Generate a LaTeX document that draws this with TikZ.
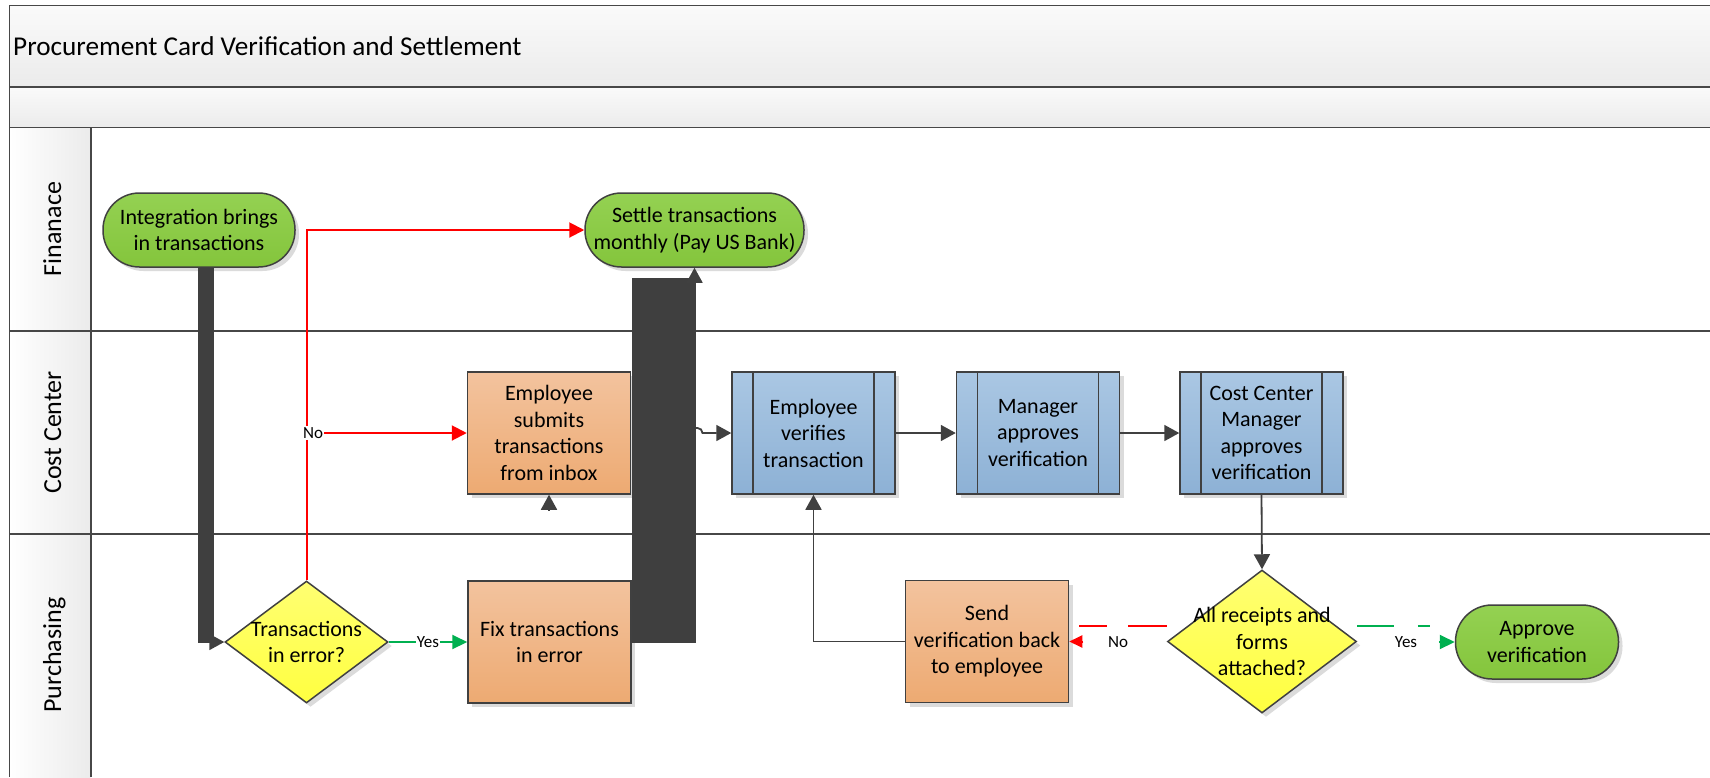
\documentclass[tikz,border=0pt]{standalone}
\usepackage{fontspec}
\setmainfont{Carlito}
\usetikzlibrary{arrows.meta,shapes.geometric,shadows,calc}
\definecolor{frameC}{HTML}{474747}
\definecolor{outC}{HTML}{404040}
\definecolor{connC}{HTML}{404040}
\definecolor{barC}{HTML}{3F3F3F}
\definecolor{greenT}{HTML}{94D152}
\definecolor{greenB}{HTML}{84C53C}
\definecolor{orT}{HTML}{F3C39E}
\definecolor{orB}{HTML}{EDAA72}
\definecolor{blT}{HTML}{AAC7E3}
\definecolor{blB}{HTML}{8DB1D5}
\definecolor{yT}{HTML}{FFFF72}
\definecolor{yB}{HTML}{FFFF40}
\definecolor{redC}{HTML}{FF0000}
\definecolor{grnC}{HTML}{00B050}
\definecolor{bandT}{HTML}{FAFAFA}
\definecolor{bandB}{HTML}{EBEBEB}
\newcommand\myNodeFont{\fontsize{22}{26.5}\selectfont}
\newcommand\myLblFont{\fontsize{17}{20}\selectfont}
\newcommand\myLaneFont{\fontsize{26}{31}\selectfont}
\newcommand\myTitleFont{\fontsize{27.2}{32}\selectfont}
\tikzset{
  frame/.style={draw=frameC, line width=1.8pt},
  box/.style={draw=outC, line width=1.5pt, inner sep=2pt, align=center, font=\myNodeFont,
    drop shadow={shadow xshift=4pt, shadow yshift=-4pt, opacity=0.14, fill=black}},
  term/.style={box, rectangle, rounded corners=36.5pt, minimum width=192pt, minimum height=74pt,
    top color=greenT, bottom color=greenB},
  task/.style={box, rectangle, minimum width=163pt, minimum height=122pt,
    top color=orT, bottom color=orB},
  subproc/.style={box, rectangle, minimum width=163pt, minimum height=122pt,
    top color=blT, bottom color=blB,
    path picture={\draw[draw=outC, line width=1.5pt]
      ([xshift=21pt]path picture bounding box.north west) -- ([xshift=21pt]path picture bounding box.south west)
      ([xshift=-21pt]path picture bounding box.north east) -- ([xshift=-21pt]path picture bounding box.south east);}},
  dec/.style={box, diamond, inner sep=0pt, top color=yT, bottom color=yB},
  dectext/.style={align=center, font=\myNodeFont, inner sep=0pt},
  conn/.style={draw=connC, line width=1.8pt, -{Triangle[length=15pt,width=16pt]}},
  redline/.style={draw=redC, line width=2pt, -{Triangle[length=15pt,width=15pt]}},
  grnline/.style={draw=grnC, line width=2pt, -{Triangle[length=15pt,width=14pt]}},
  lbl/.style={fill=white, inner sep=1pt, font=\myLblFont},
  lane/.style={rotate=90, anchor=base, font=\myLaneFont, inner sep=0pt},
}
\begin{document}
\begin{tikzpicture}[x=1pt,y=-1pt]
\useasboundingbox (0,0) rectangle (1710,777);
\fill[white] (0,0) rectangle (1710,777);
% pool frame and bands
\shade[top color=bandT, bottom color=bandB] (9.5,5.5) rectangle (1710,86.7);
\shade[top color=bandT, bottom color=bandB] (9.5,86.7) rectangle (1710,127.5);
\shade[left color=white, right color=bandB] (9.5,127.5) rectangle (90.7,777);
\draw[frame] (1710,5.5) -- (9.5,5.5) -- (9.5,777);
\draw[frame] (9.5,86.7) -- (1710,86.7);
\draw[frame] (9.5,127.5) -- (1710,127.5);
\draw[frame] (90.7,127.5) -- (90.7,777);
\draw[frame] (9.5,331) -- (1710,331);
\draw[frame] (9.5,534) -- (1710,534);
\node[anchor=base west, font=\myTitleFont, inner sep=0pt] (title) at (13,55.5) {Procurement Card Verification and Settlement};
\node[lane] (lfin) at (61,229) {Finanace};
\node[lane] (lcc) at (61,432.5) {Cost Center};
\node[lane] (lpur) at (61,655) {Purchasing};

\node[term] (int) at (199,230) {Integration brings\\in transactions};
\node[term, minimum width=219pt] (settle) at (694.5,230) {Settle transactions\\monthly (Pay US Bank)};
\node[task] (es) at (549,433) {Employee\\submits\\transactions\\from inbox};
\node[task] (fix) at (549.5,642) {Fix transactions\\in error};
\node[task] (send) at (987,641.5) {Send\\verification back\\to employee};
\node[subproc] (ev) at (813.5,433) {Employee\\verifies\\transaction};
\node[subproc] (ma) at (1038,433) {Manager\\approves\\verification};
\node[subproc] (ccm) at (1261.5,433) {Cost Center\\Manager\\approves\\verification};
\node[dec, minimum width=163pt, minimum height=122pt] (d1) at (306.5,642) {};
\node[dectext] (d1t) at (d1) {Transactions\\in error?};
\node[dec, minimum width=189pt, minimum height=143pt] (d2) at (1262,641.5) {};
\node[dectext] (d2t) at (d2) {All receipts and\\forms\\attached?};
\node[term, minimum width=163pt] (appr) at (1537,642) {Approve\\verification};

% left thick connector
\fill[barC] ($(int.south)+(-1,0)$) rectangle ($(int.south |- d1.west)+(15,1)$);
\draw[conn] ($(int.south |- d1.west)+(15,0)$) -- (d1.west);
% big thick connector
\fill[barC] ($(fix.east)+(0,1)$) rectangle ($(settle.south)+(1,10)$);
\draw[conn] ($(settle.south)+(0,16)$) -- (settle.south);
\coordinate (hopA) at ($(settle.south |- ev.west)+(1,-5)$);
\draw[conn] (hopA) -- ++(2,0) arc[start angle=90, end angle=0, radius=5pt] -- ++(0,0) -- (ev.west);
% fix -> employee submits (only arrowhead visible)
\draw[conn] ($(es.south)+(0,16)$) -- (es.south);
% blue chain
\draw[conn] (ev.east) -- (ma.west);
\draw[conn] (ma.east) -- (ccm.west);
\draw[conn] (ccm.south) -- (d2.north);
\draw[conn] (send.west) -| (ev.south);
% decision 1
\draw[redline] (d1.north) |- (settle.west);
\draw[redline] (d1.north |- es.west) -- (es.west);
\node[lbl] (no1) at (313,433) {No};
\draw[grnline] (d1.east) -- (fix.west);
\node[lbl, inner sep=0.5pt] (yes1) at (428,642) {Yes};
% decision 2
\draw[draw=redC, line width=2pt] ($(d2.west)+(0,-16)$) -- ++(-38.5,0);
\draw[draw=redC, line width=2pt] ($(d2.west)+(-60,-16)$) -- ++(-27.5,0);
\draw[redline, -{Triangle[length=13pt,width=12pt]}] ($(send.east)+(14,0)$) -- (send.east);
\node[lbl] (no2) at (1118,642) {No};
\draw[draw=grnC, line width=2pt] ($(d2.east)+(0,-16)$) -- ++(37,0);
\draw[draw=grnC, line width=2pt] ($(d2.east)+(60.5,-16)$) -- ++(12,0);
\draw[grnline] ($(appr.west)+(-16,0)$) -- (appr.west);
\node[lbl] (yes2) at (1406,642) {Yes};
\end{tikzpicture}
\end{document}
